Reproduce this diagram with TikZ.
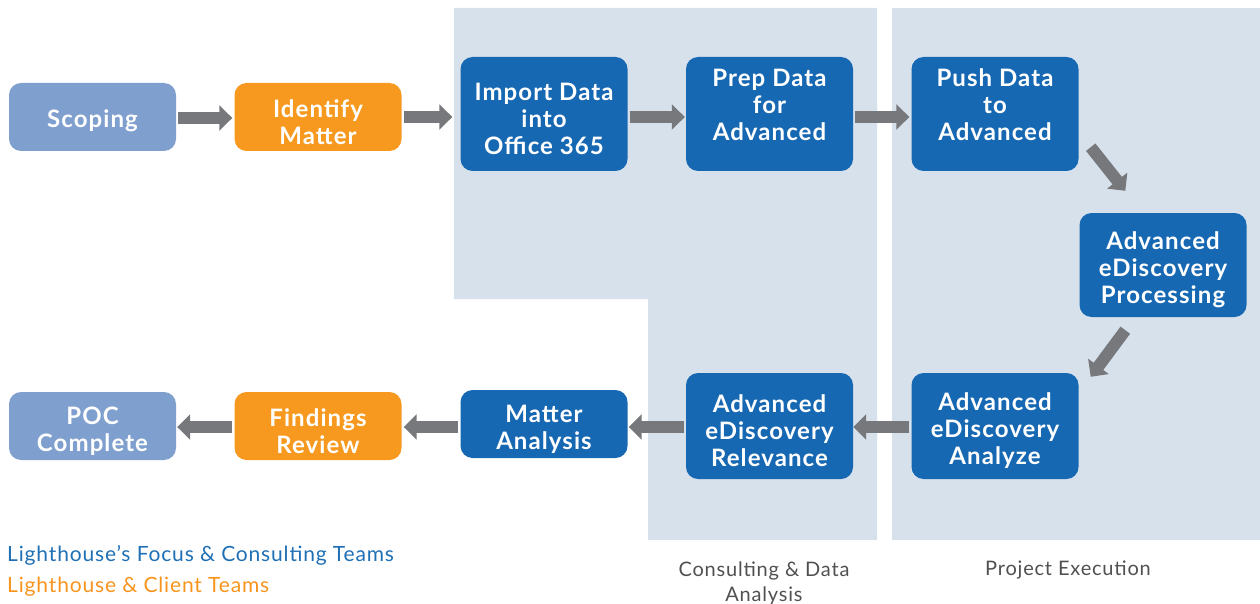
\documentclass[tikz,border=0pt]{standalone}
\usepackage{fontspec}
\setmainfont{Lato}
\newfontfamily\boxfont[LetterSpace=4.5]{Lato}
\newfontfamily\legfont[LetterSpace=4]{Lato}
\usetikzlibrary{arrows.meta,calc}
\definecolor{panelbg}{HTML}{D7E1EC}
\definecolor{boxblue}{HTML}{1768B3}
\definecolor{boxlight}{HTML}{7F9FCE}
\definecolor{boxorange}{HTML}{F7991F}
\definecolor{arrowgray}{HTML}{77787B}
\definecolor{legblue}{HTML}{1F6FB5}
\definecolor{legorange}{HTML}{F7941D}
\definecolor{labgray}{HTML}{505050}
\tikzset{
  box/.style={rounded corners=12pt, minimum width=167pt, inner sep=0pt},
  blue/.style={box, fill=boxblue},
  light/.style={box, fill=boxlight},
  orange/.style={box, fill=boxorange},
  boxtext/.style={inner sep=0pt, align=center, text=white,
    font=\boxfont\fontsize{24}{27}\selectfont\bfseries},
  flow/.style={draw=arrowgray, line width=12pt, -{Triangle[width=25pt,length=13pt]}},
  legend/.style={anchor=west, inner sep=0pt, font=\legfont\fontsize{21}{25}\selectfont},
  panellabel/.style={inner sep=0pt, align=center, text=labgray, font=\legfont\fontsize{20}{25}\selectfont}
}
\begin{document}
\begin{tikzpicture}[x=1pt,y=-1pt]
\useasboundingbox (0,0) rectangle (1260,604);
% panels
\fill[panelbg] (454,8) -- (877,8) -- (877,540) -- (648,540) -- (648,299) -- (454,299) -- cycle;
\fill[panelbg] (892,8) rectangle (1260,540);
% boxes
\node[light, minimum height=68pt] (scoping) at (92.5,117) {};
\node[orange, minimum height=68pt] (identify) at (318,117) {};
\node[blue, minimum height=114pt] (import) at (544,114) {};
\node[blue, minimum height=114pt] (prep) at (769.5,114) {};
\node[blue, minimum height=114pt] (push) at (995,114) {};
\node[blue, minimum height=104pt] (proc) at (1163,265) {};
\node[blue, minimum height=106pt] (analyze) at (995,426) {};
\node[blue, minimum height=106pt] (relev) at (769.5,426) {};
\node[blue, minimum height=68pt] (matter) at (544,424) {};
\node[orange, minimum height=68pt] (findings) at (318,426) {};
\node[light, minimum height=68pt] (poc) at (92.5,426) {};
% box texts
\node[boxtext] (scopingT) at ($(scoping)+(0,4)$) {Scoping};
\node[boxtext] (identifyT) at ($(identify)+(0,5)$) {Identify\\Matter};
\node[boxtext] (importT) at ($(import)+(0,5)$) {Import Data\\into\\Office 365};
\node[boxtext] (prepT) at ($(prep)+(0,-9)$) {Prep Data\\for\\Advanced};
\node[boxtext] (pushT) at ($(push)+(0,-9)$) {Push Data\\to\\Advanced};
\node[boxtext] (procT) at ($(proc)+(0,5)$) {Advanced\\eDiscovery\\Processing};
\node[boxtext] (analyzeT) at ($(analyze)+(0,5)$) {Advanced\\eDiscovery\\Analyze};
\node[boxtext] (relevT) at ($(relev)+(0,5)$) {Advanced\\eDiscovery\\Relevance};
\node[boxtext] (matterT) at ($(matter)+(0,5)$) {Matter\\Analysis};
\node[boxtext] (findingsT) at ($(findings)+(0,5)$) {Findings\\Review};
\node[boxtext] (pocT) at ($(poc)+(0,5)$) {POC\\Complete};
% arrows
\draw[flow] ($(scoping.east)+(2,1)$) -- ($(identify.west)+(-2,1)$);
\draw[flow] ($(identify.east)+(2,0)$) -- ($(import.west)+(-8,3)$);
\draw[flow] ($(import.east)+(2,3)$) -- ($(prep.west)+(-1,3)$);
\draw[flow] ($(prep.east)+(2,3)$) -- ($(push.west)+(-2,3)$);
\draw[flow] ($(push.south east)+(12,-24)$) -- ($(proc.north west)+(46,-22)$);
\draw[flow] ($(proc.south west)+(46,13)$) -- ($(analyze.north east)+(12,4)$);
\draw[flow] ($(analyze.west)+(-2,1)$) -- ($(relev.east)+(0,1)$);
\draw[flow] ($(relev.west)+(-2,1)$) -- ($(matter.east)+(1,3)$);
\draw[flow] ($(matter.west)+(-2,3)$) -- ($(findings.east)+(2,1)$);
\draw[flow] ($(findings.west)+(-2,1)$) -- ($(poc.east)+(1,1)$);
% legend
\node[legend, text=legblue] (leg1) at (7,555) {Lighthouse’s Focus \& Consulting Teams};
\node[legend, text=legorange] (leg2) at (7,587) {Lighthouse \& Client Teams};
% panel labels
\node[panellabel] (lab1) at (764,583) {Consulting \& Data\\Analysis};
\node[panellabel] (lab2) at (1068,570) {Project Execution};
\end{tikzpicture}
\end{document}
